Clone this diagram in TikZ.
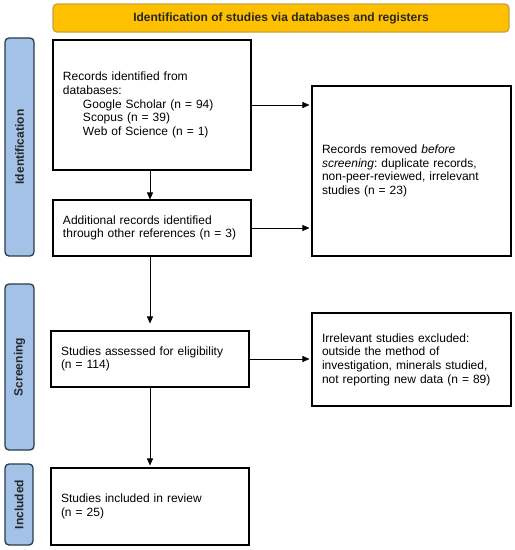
\documentclass[tikz,border=0pt]{standalone}
\usepackage{fontspec}
\setmainfont{Liberation Sans}
\usetikzlibrary{arrows.meta}
\frenchspacing
\definecolor{bannerfill}{HTML}{FFC000}
\definecolor{bannerdraw}{HTML}{C9A13A}
\definecolor{sidefill}{HTML}{A4C2E8}
\definecolor{sidedraw}{HTML}{2B3A4A}
\tikzset{
  box/.style={draw=black, line width=1.1pt, fill=white, inner xsep=10pt, inner ysep=0pt, align=left,
    font=\fontsize{12}{13.7}\selectfont},
  sidebox/.style={draw=sidedraw, fill=sidefill, line width=1.3pt, rounded corners=4pt, inner sep=0pt},
  sidetext/.style={rotate=90, font=\fontsize{12}{14}\selectfont\bfseries, text=black!85},
  arr/.style={-{Triangle[length=7pt,width=6pt]}, line width=0.6pt}
}
\begin{document}
\begin{tikzpicture}[x=1pt,y=-1pt]
\useasboundingbox (0,0) rectangle (515,550);
% banner
\node[draw=bannerdraw, fill=bannerfill, line width=1.2pt, rounded corners=4pt,
  minimum width=456pt, minimum height=28pt, inner sep=0pt,
  font=\fontsize{12}{14}\selectfont\bfseries, text=black!85] (banner) at (281,18)
  {Identification of studies via databases and registers};
% side bars
\node[sidebox, minimum width=29pt, minimum height=218pt] (sid) at (19.5,147) {};
\node[sidetext] (sidt) at (sid) {Identification};
\node[sidebox, minimum width=29pt, minimum height=166pt] (sscr) at (19.5,367) {};
\node[sidetext] (sscrt) at (sscr) {Screening};
\node[sidebox, minimum width=28pt, minimum height=81pt] (sinc) at (19,504.5) {};
\node[sidetext] (sinct) at (sinc) {Included};
% boxes
\node[box, text width=178pt, minimum height=130pt] (b1) at (152,105)
  {Records identified from\\databases:\\\hspace*{20pt}Google Scholar (n = 94)\\\hspace*{20pt}Scopus (n = 39)\\\hspace*{20pt}Web of Science (n = 1)};
\node[box, text width=179pt, minimum height=170pt] (b2) at (411.5,171)
  {Records removed \textit{before}\\\textit{screening}: duplicate records,\\non-peer-reviewed, irrelevant\\studies (n = 23)};
\node[box, text width=178pt, minimum height=56pt] (b3) at (152,228)
  {Additional records identified\\through other references (n = 3)};
\node[box, text width=178pt, minimum height=56pt] (b4) at (150,359)
  {Studies assessed for eligibility\\(n = 114)};
\node[box, text width=179pt, minimum height=93pt] (b5) at (411.5,359.5)
  {Irrelevant studies excluded:\\outside the method of\\investigation, minerals studied,\\not reporting new data (n = 89)};
\node[box, text width=178pt, minimum height=77pt] (b6) at (150,506.5)
  {Studies included in review\\(n = 25)};
% connectors
\draw[arr, shorten >=2pt] (b1.east) -- (b1.east -| b2.west);
\draw[arr, shorten >=2pt] (b3.east) -- (b3.east -| b2.west);
\draw[arr, shorten >=2pt] (b4.east) -- (b4.east -| b5.west);
\draw[arr] ([xshift=-2pt]b1.south) -- ([xshift=-2pt]b3.north);
\draw[arr, shorten >=7pt] ([xshift=-2pt]b3.south) -- (b4.north);
\draw[arr, shorten >=2pt] (b4.south) -- (b6.north);
\end{tikzpicture}
\end{document}
